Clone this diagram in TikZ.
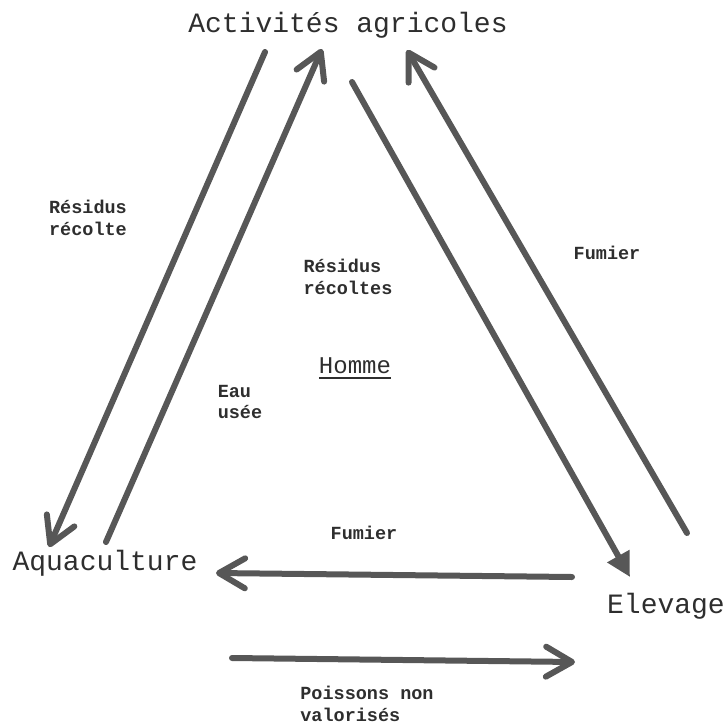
\documentclass[tikz,border=0pt]{standalone}
\usepackage{fontspec}
\setmainfont{Liberation Mono}
\usetikzlibrary{arrows.meta}
\definecolor{ink}{HTML}{575757}
\definecolor{txt}{HTML}{2E2E2E}

\begin{document}
\begin{tikzpicture}[x=1pt,y=-1pt,
  flow/.style={draw=ink,line width=6pt,line cap=round,-{Straight Barb[length=26pt,width=30pt,round]}},
  fullhead/.style={draw=ink,line width=6pt,line cap=round,-{Triangle[length=24pt,width=24pt]}},
  big/.style={text=txt,font=\fontsize{28}{32}\selectfont,inner sep=0pt},
  lbl/.style={text=txt,font=\bfseries\fontsize{18.5}{21.5}\selectfont,align=left,inner sep=0pt}]
\useasboundingbox (0,0) rectangle (726,724);
% poles
\node[big,anchor=base] (agri) at (348,32) {Activités agricoles};
\node[big,anchor=base] (aqua) at (105,570) {Aquaculture};
\node[big,anchor=base] (elev) at (666,613) {Elevage};
\node[text=txt,font=\fontsize{24}{28}\selectfont,inner sep=0pt,anchor=base] (homme) at (355,373) {Homme};
\draw[txt,line width=2.5pt] ([yshift=-5pt]homme.base west) -- ([yshift=-5pt]homme.base east);
% labels
\node[lbl] (res1) at (88,218) {Résidus\\récolte};
\node[lbl] (res2) at (348,277) {Résidus\\récoltes};
\node[lbl] (fum1) at (607,253) {Fumier};
\node[lbl] (eau) at (240,402) {Eau\\usée};
\node[lbl] (fum2) at (364,533) {Fumier};
\node[lbl] (pois) at (367,704) {Poissons non\\valorisés};
% arrow ends
\coordinate (a1) at (265,52);  \coordinate (b1) at (49,547);
\coordinate (a2) at (106,542); \coordinate (b2) at (322,49);
\coordinate (a3) at (352,82);  \coordinate (b3) at (630,577);
\coordinate (a4) at (687,533); \coordinate (b4) at (407,50);
\coordinate (a5) at (572,577); \coordinate (b5) at (216,573);
\coordinate (a6) at (232,658); \coordinate (b6) at (575,662);
\draw[flow](a1)--(b1);
\draw[flow](a2)--(b2);
\draw[fullhead](a3)--(b3);
\draw[flow](a4)--(b4);
\draw[flow](a5)--(b5);
\draw[flow](a6)--(b6);
\end{tikzpicture}
\end{document}
